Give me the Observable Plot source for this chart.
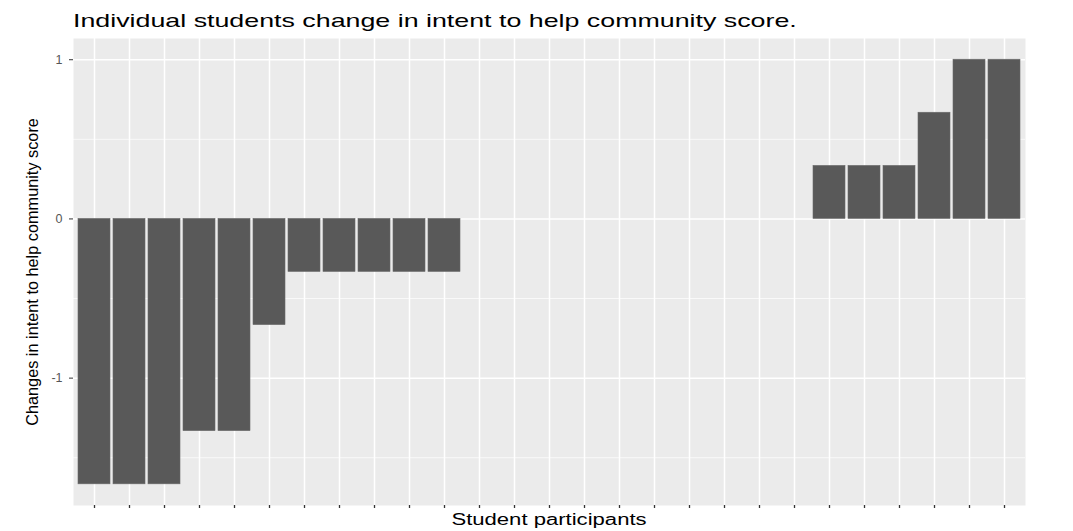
<!DOCTYPE html>
<html><head><meta charset="utf-8">
<script src="https://cdn.jsdelivr.net/npm/d3@7"></script>
<script src="https://cdn.jsdelivr.net/npm/@observablehq/plot@0.6"></script>
<style>
body{margin:0;background:#fff;}
#wrap{position:relative;width:1073px;height:531px;overflow:hidden;}
#title{position:absolute;left:73px;top:11px;font-family:"Liberation Sans",Arial,sans-serif;font-size:19px;line-height:19px;color:#000;white-space:nowrap;transform-origin:0 0;transform:scaleX(1.41);}
#xlabel{position:absolute;left:549px;top:512px;font-family:"Liberation Sans",Arial,sans-serif;font-size:16px;line-height:16px;color:#000;white-space:nowrap;transform:translateX(-50%) scaleX(1.38);}
#chart{position:absolute;left:0;top:36px;}
</style></head><body>
<div id="wrap"><div id="chart"></div><div id="title"></div><div id="xlabel"></div></div>
<script>
const students = ["S01","S02","S03","S04","S05","S06","S07","S08","S09","S10","S11","S12","S13","S14","S15","S16","S17","S18","S19","S20","S21","S22","S23","S24","S25","S26","S27"];
const scoreChange = [-1.667,-1.667,-1.667,-1.333,-1.333,-0.667,-0.333,-0.333,-0.333,-0.333,-0.333,0,0,0,0,0,0,0,0,0,0,0.333,0.333,0.333,0.667,1,1];
const yTicks = [-1,0,1];
const yMinor = [-1.5,-0.5,0.5];
const titleText = "Individual students change in intent to help community score.";
const yLabel = "Changes in intent to help community score";
const xLabel = "Student participants";
document.getElementById("title").textContent = titleText;
document.getElementById("xlabel").textContent = xLabel;
const data = students.map((s,i)=>({student:s, change:scoreChange[i]}));
const plot = Plot.plot({
  width:1073, height:495, marginTop:2, marginBottom:26, marginLeft:73, marginRight:48,
  style:{fontFamily:"'Liberation Sans', Arial, sans-serif", background:"transparent", overflow:"visible"},
  x:{type:"band", domain:students, paddingInner:0.1, paddingOuter:0.15},
  y:{domain:[-1.8,1.1333]},
  marks:[
    Plot.frame({fill:"#EBEBEB", stroke:null}),
    Plot.gridY(yMinor,{stroke:"white", strokeOpacity:1, strokeWidth:0.7}),
    Plot.gridY(yTicks,{stroke:"white", strokeOpacity:1, strokeWidth:1.5}),
    Plot.gridX({stroke:"white", strokeOpacity:1, strokeWidth:1.5}),
    Plot.barY(data,{x:"student", y:"change", fill:"#595959", stroke:"#6a6a6a", strokeWidth:0.6}),
    Plot.axisY(yTicks,{tickSize:4, tickPadding:7, stroke:"#333", fill:"#555", fontSize:12.5, tickFormat:d=>String(d), label:null}),
    Plot.axisX({tickSize:3, stroke:"#333", strokeWidth:1.3, tickFormat:()=>"", label:null}),
    Plot.text([yLabel],{frameAnchor:"left", textAnchor:"middle", rotate:-90, dx:-41, fontSize:16.3, fill:"#000"})
  ]
});
document.getElementById("chart").appendChild(plot);
</script>
</body></html>
